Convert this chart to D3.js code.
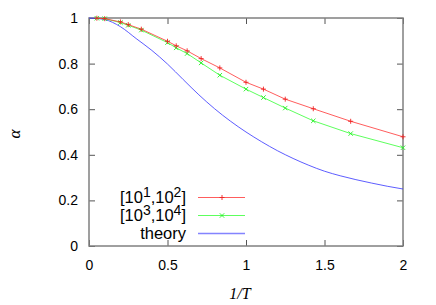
<html>
  <head>
    <style>
      body {
        margin: 0;
        background: #fff;
      }
      text {
        font-family: "Liberation Sans", Arial, sans-serif;
      }
    </style>
  </head>
  <body>
    <script src="https://d3js.org/d3.v7.min.js"></script>
    <script>
      var width = 436, height = 305;
      var margin = {top: 18, right: 33, bottom: 59, left: 89};

      // 1/T sample points for the two simulation runs
      var invT = [0.05, 0.1, 0.2, 0.25, 0.3333, 0.5, 0.5556, 0.625, 0.7143, 0.8333, 1.0, 1.1111, 1.25, 1.4286, 1.6667, 2.0];
      var alphaLow = [0.999, 0.997, 0.983, 0.971, 0.951, 0.898, 0.878, 0.856, 0.822, 0.781, 0.718, 0.688, 0.644, 0.602, 0.547, 0.479];
      var alphaHigh = [0.999, 0.997, 0.980, 0.968, 0.947, 0.892, 0.869, 0.844, 0.803, 0.749, 0.688, 0.651, 0.605, 0.549, 0.493, 0.431];

      // theory curve
      var theoryX = [0, 0.1, 0.2, 0.3, 0.4, 0.5, 0.6, 0.7, 0.8, 0.9, 1.0, 1.1, 1.2, 1.3, 1.4, 1.5, 1.6, 1.7, 1.8, 1.9, 2.0];
      var theoryY = [1.0, 0.993, 0.962, 0.910, 0.858, 0.798, 0.730, 0.663, 0.602, 0.548, 0.500, 0.457, 0.418, 0.384, 0.354, 0.328, 0.308, 0.291, 0.276, 0.262, 0.250];

      var xTicks = [0, 0.5, 1, 1.5, 2];
      var yTicks = [0, 0.2, 0.4, 0.6, 0.8, 1];

      var svg = d3.select("body").append("svg")
          .attr("width", width)
          .attr("height", height);

      var x = d3.scaleLinear().domain([0, 2]).range([margin.left, width - margin.right]);
      var y = d3.scaleLinear().domain([0, 1]).range([height - margin.bottom, margin.top]);

      // mirrored inward ticks, like gnuplot
      svg.append("g")
          .attr("transform", "translate(0," + y(0) + ")")
          .call(d3.axisBottom(x).tickValues(xTicks).tickSize(-6).tickPadding(14).tickFormat(d3.format("")))
          .call(styleAxis);
      svg.append("g")
          .attr("transform", "translate(0," + y(1) + ")")
          .call(d3.axisTop(x).tickValues(xTicks).tickSize(-6).tickFormat(""))
          .call(styleAxis);
      svg.append("g")
          .attr("transform", "translate(" + x(0) + ",0)")
          .call(d3.axisLeft(y).tickValues(yTicks).tickSize(-6).tickPadding(11).tickFormat(d3.format("")))
          .call(styleAxis);
      svg.append("g")
          .attr("transform", "translate(" + x(2) + ",0)")
          .call(d3.axisRight(y).tickValues(yTicks).tickSize(-6).tickFormat(""))
          .call(styleAxis);

      function styleAxis(g) {
        g.select(".domain").remove();
        g.selectAll(".tick line").attr("stroke", "#555");
        g.selectAll(".tick text").attr("fill", "#000").style("font-size", "14px").style("font-family", "'Liberation Sans', Arial, sans-serif");
      }

      svg.append("rect")
          .attr("x", x(0))
          .attr("y", y(1))
          .attr("width", x(2) - x(0))
          .attr("height", y(0) - y(1))
          .attr("fill", "none")
          .attr("stroke", "#808080")
          .attr("stroke-width", 1.5);

      var line = d3.line()
          .x(function(d){ return x(d[0]); })
          .y(function(d){ return y(d[1]); });

      var theory = d3.zip(theoryX, theoryY);
      var low = d3.zip(invT, alphaLow);
      var high = d3.zip(invT, alphaHigh);

      var plot = svg.append("g");

      plot.append("path")
          .datum(theory)
          .attr("fill", "none")
          .attr("stroke", "#3333ff")
          .attr("stroke-width", 0.8)
          .attr("d", line.curve(d3.curveMonotoneX));

      line.curve(d3.curveLinear);

      plot.append("path")
          .datum(high)
          .attr("fill", "none")
          .attr("stroke", "#33ff33")
          .attr("stroke-width", 0.8)
          .attr("d", line);

      plot.append("path")
          .datum(low)
          .attr("fill", "none")
          .attr("stroke", "#ff3333")
          .attr("stroke-width", 0.8)
          .attr("d", line);

      function plus(g, cx, cy, color) {
        g.append("path")
            .attr("d", "M" + (cx - 2.5) + "," + cy + "H" + (cx + 2.5) + "M" + cx + "," + (cy - 2.5) + "V" + (cy + 2.5))
            .attr("stroke", color).attr("stroke-width", 0.9);
      }
      function cross(g, cx, cy, color) {
        g.append("path")
            .attr("d", "M" + (cx - 2.2) + "," + (cy - 2.2) + "L" + (cx + 2.2) + "," + (cy + 2.2) + "M" + (cx - 2.2) + "," + (cy + 2.2) + "L" + (cx + 2.2) + "," + (cy - 2.2))
            .attr("stroke", color).attr("stroke-width", 0.9);
      }

      high.forEach(function(d){ cross(plot, x(d[0]), y(d[1]), "#22ee22"); });
      low.forEach(function(d){ plus(plot, x(d[0]), y(d[1]), "#ee2222"); });

      // axis titles
      svg.append("text")
          .attr("transform", "translate(20," + (y(0.5) + 2) + ") rotate(-90)")
          .attr("text-anchor", "middle")
          .style("font-family", "'Liberation Serif', 'DejaVu Serif', serif")
          .style("font-style", "italic")
          .style("font-size", "17px")
          .text("α");

      svg.append("text")
          .attr("x", 240)
          .attr("y", 299)
          .attr("text-anchor", "middle")
          .style("font-family", "'Liberation Serif', 'DejaVu Serif', serif")
          .style("font-style", "italic")
          .style("font-size", "16px")
          .text("1/T");

      // legend
      var legend = [
        {parts: [["[10", 0], ["1", 1], [",10", 0], ["2", 1], ["]", 0]], color: "#ff3333", mark: plus, mcolor: "#ee2222"},
        {parts: [["[10", 0], ["3", 1], [",10", 0], ["4", 1], ["]", 0]], color: "#33ff33", mark: cross, mcolor: "#22ee22"},
        {parts: [["theory", 0]], color: "#3333ff", mark: null}
      ];

      legend.forEach(function(d, i){
        var cy = 197.5 + i * 18;
        var t = svg.append("text")
            .attr("x", 186)
            .attr("y", cy + 5.5)
            .attr("text-anchor", "end")
            .style("font-size", "16.5px");
        var shift = 0;
        d.parts.forEach(function(p){
          var target = p[1] ? -6 : 0;
          t.append("tspan")
              .attr("dy", target - shift)
              .style("font-size", p[1] ? "14px" : "16.5px")
              .text(p[0]);
          shift = target;
        });
        svg.append("line")
            .attr("x1", 198).attr("x2", 245)
            .attr("y1", cy).attr("y2", cy)
            .attr("stroke", d.color)
            .attr("stroke-width", i == 2 ? 1.5 : 0.8)
            .attr("opacity", i == 2 ? 0.6 : 1);
        if (d.mark) d.mark(svg, 222, cy, d.mcolor);
      });
    </script>
  </body>
</html>
